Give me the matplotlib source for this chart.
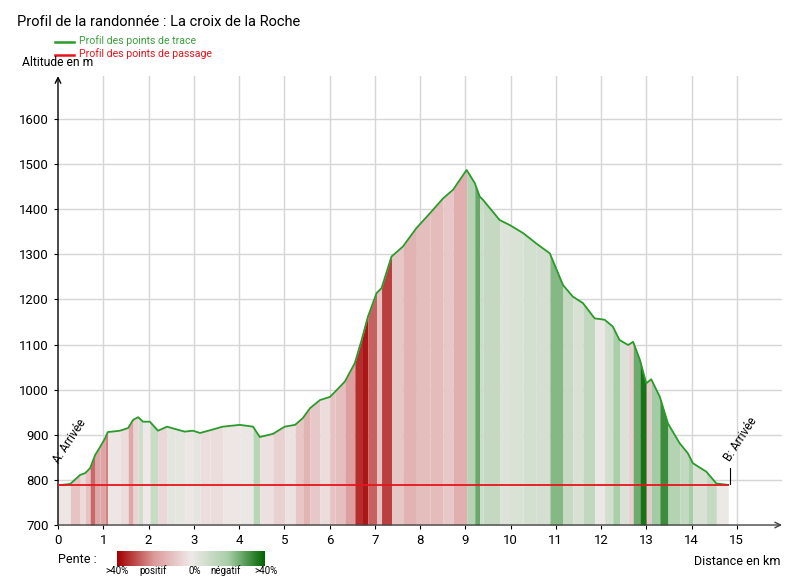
import numpy as np
import matplotlib
matplotlib.use('Agg')
import matplotlib.pyplot as plt
from matplotlib.colors import LinearSegmentedColormap, Normalize

plt.rcParams['font.family'] = ['Roboto', 'DejaVu Sans']

# profil : distance (km), altitude (m)
dist_km = [0.0, 0.27, 0.49, 0.6, 0.71, 0.82, 0.93, 1.04, 1.1, 1.37, 1.55, 1.66, 1.77,
           1.88, 2.03, 2.21, 2.41, 2.58, 2.8, 2.98, 3.14, 3.36, 3.64, 4.02, 4.31, 4.46,
           4.75, 5.01, 5.24, 5.41, 5.57, 5.79, 6.01, 6.12, 6.34, 6.56, 6.71, 6.85, 7.04,
           7.15, 7.37, 7.62, 7.92, 8.22, 8.51, 8.73, 9.03, 9.21, 9.32, 9.39, 9.76, 9.98,
           10.28, 10.57, 10.87, 11.16, 11.38, 11.6, 11.86, 12.08, 12.26, 12.41, 12.6,
           12.71, 12.86, 13.0, 13.11, 13.3, 13.48, 13.74, 13.92, 14.03, 14.33, 14.55, 14.81]
altitude_m = [788, 791, 811, 815, 826, 855, 873, 892, 906, 909, 915, 933, 939,
              929, 929, 909, 918, 913, 907, 909, 904, 910, 918, 922, 918, 895,
              902, 918, 922, 937, 959, 977, 984, 995, 1018, 1059, 1110, 1162, 1214,
              1225, 1295, 1317, 1358, 1391, 1424, 1443, 1487, 1458, 1428, 1421, 1376, 1365,
              1347, 1324, 1302, 1232, 1206, 1192, 1158, 1155, 1140, 1110, 1099,
              1106, 1066, 1014, 1023, 984, 925, 881, 859, 837, 818, 792, 789]

# points de passage
passage_km = [0.0, 14.81]
passage_alt = [788, 788]

x_ticks = list(range(0, 16))
y_ticks = [700, 800, 900, 1000, 1100, 1200, 1300, 1400, 1500, 1600]

fig = plt.figure(figsize=(8, 5.77), dpi=100)
ax = fig.add_axes([0.0725, 0.0901, 0.905, 0.778])

x = np.array(dist_km)
y = np.array(altitude_m)

# couleurs de pente : rouge = montée, vert = descente
pente_cmap = LinearSegmentedColormap.from_list(
    'pente', ['#a30000', '#dc9a9a', '#efe9e9', '#a9cfa9', '#006400'])
norm = Normalize(-40, 40)
slope = np.diff(y) / (np.diff(x) * 1000) * 100
for i in range(len(x) - 1):
    ax.fill_between([x[i], x[i + 1]], [y[i], y[i + 1]], 700,
                    color=pente_cmap(norm(-slope[i])), lw=0, zorder=2)

ax.plot(x, y, color='#2a9a2a', lw=1.3, zorder=4)
ax.plot(passage_km, passage_alt, color='#e8141c', lw=1.3, zorder=5)

ax.set_xlim(0, 16)
ax.set_ylim(700, 1695)
ax.set_xticks(x_ticks)
ax.set_yticks(y_ticks)
ax.tick_params(labelsize=9.5, length=3, colors='black')
for t in range(1, 16):
    ax.axvline(t, color='#d6d6d6', lw=1, zorder=1)
for v in y_ticks[1:]:
    ax.axhline(v, color='#d6d6d6', lw=1, zorder=1)

for s in ax.spines.values():
    s.set_visible(False)
ax.annotate('', xy=(0, 1.0), xytext=(0, 0), xycoords='axes fraction',
            arrowprops=dict(arrowstyle='->', color='black', lw=1, shrinkA=0, shrinkB=0))
ax.annotate('', xy=(1.0, 0), xytext=(0, 0), xycoords='axes fraction',
            arrowprops=dict(arrowstyle='->', color='#444444', lw=1, shrinkA=0, shrinkB=0))

# repères départ / arrivée
ax.text(0.08, 832, 'A: Arrivée', rotation=57, fontsize=8.5, ha='left', va='bottom',
        rotation_mode='anchor', zorder=6)
ax.plot([14.85, 14.85], [790, 826], color='black', lw=0.8, zorder=6)
ax.text(14.9, 836, 'B: Arrivée', rotation=57, fontsize=8.5, ha='left', va='bottom',
        rotation_mode='anchor', zorder=6)

# textes
fig.text(0.021, 0.962, 'Profil de la randonnée : La croix de la Roche', fontsize=10.5,
         ha='left', va='center')
fig.add_artist(plt.Line2D([0.069, 0.092], [0.928, 0.928], color='#2a9a2a', lw=1.8))
fig.text(0.099, 0.930, 'Profil des points de trace', fontsize=7.6, color='#3aa03a',
         ha='left', va='center')
fig.add_artist(plt.Line2D([0.069, 0.092], [0.905, 0.905], color='#e8141c', lw=1.8))
fig.text(0.099, 0.907, 'Profil des points de passage', fontsize=7.6, color='#e8141c',
         ha='left', va='center')
fig.text(0.027, 0.892, 'Altitude en m', fontsize=8.7, ha='left', va='center')
fig.text(0.975, 0.026, 'Distance en km', fontsize=9, ha='right', va='center')

# légende de pente
fig.text(0.073, 0.030, 'Pente :', fontsize=9, ha='left', va='center')
cax = fig.add_axes([0.146, 0.019, 0.184, 0.026])
cax.imshow(np.linspace(0, 1, 256)[None, :], aspect='auto', cmap=pente_cmap)
cax.set_axis_off()
for px, lab in [(117, '>40%'), (153, 'positif'), (195, '0%'), (226, 'négatif'), (266, '>40%')]:
    fig.text(px / 800, 0.002, lab, fontsize=7, ha='center', va='bottom')

fig.savefig('out.png', dpi=100)
